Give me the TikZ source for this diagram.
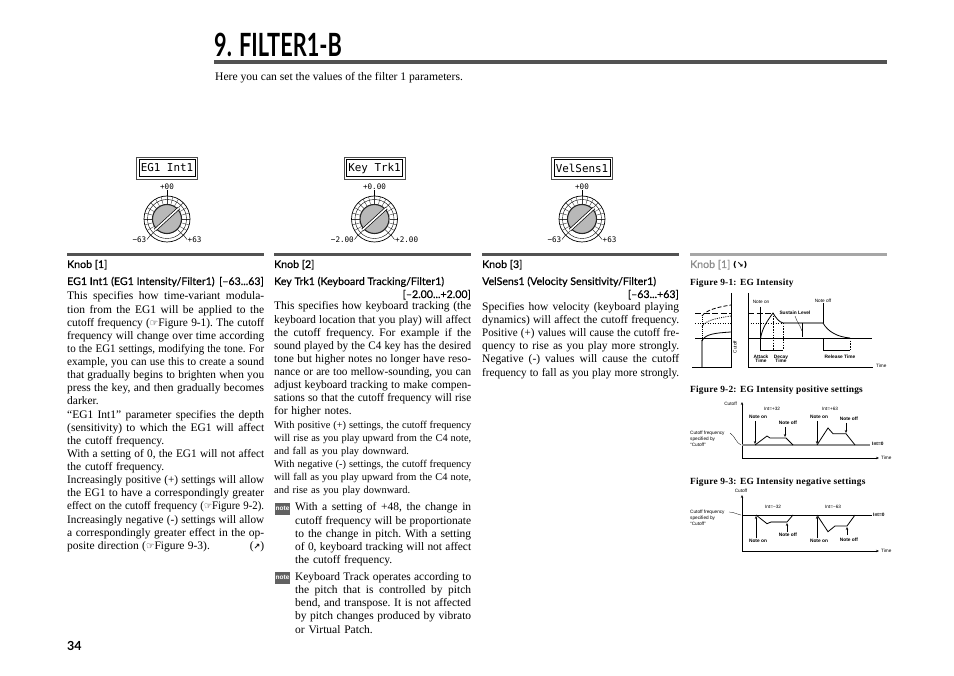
\documentclass[tikz,border=0pt]{standalone}
\usepackage{fontspec}
\usepackage{graphicx}
\setmainfont{Liberation Serif}
\newfontfamily\headf[FakeBold=0.5]{Lato}
\newfontfamily\titlef{Lato}
\newfontfamily\labf{Liberation Sans}
\newfontfamily\lcdf{DejaVu Sans Mono}
\newfontfamily\symf{DejaVu Sans}
\newfontfamily\figf[LetterSpace=2.3]{Liberation Serif}
\usetikzlibrary{arrows.meta}
\newlength\lnw
\setlength\lnw{197pt}
\newsavebox\lnbox
\newcommand\jl[1]{\sbox\lnbox{\spaceskip=.29em plus 1fil\xspaceskip=.29em plus 1fil #1}\ifdim\wd\lnbox>\lnw\resizebox{\lnw}{\ht\lnbox}{\usebox\lnbox}\else\leavevmode\hbox to \lnw{\spaceskip=.29em plus 1fil\xspaceskip=.29em plus 1fil #1}\fi}
\newcommand\nl[1]{\sbox\lnbox{#1}\ifdim\wd\lnbox>\lnw\resizebox{\lnw}{\ht\lnbox}{\usebox\lnbox}\else\usebox\lnbox\fi}
\newcommand\hand{{\symf\fontsize{9.5}{9.5}\selectfont ☞}}
\tikzset{
 bodytxt/.style={anchor=base west,inner sep=0pt,text width=197pt,align=left,font=\fontsize{11.5}{13.12}\selectfont},
 smalltxt/.style={bodytxt,font=\fontsize{10.4}{13.1}\selectfont},
 notetxt/.style={bodytxt,text width=176pt,font=\fontsize{11.5}{13.25}\selectfont},
 head/.style={anchor=base west,inner sep=0pt,font=\headf\fontsize{10.6}{13}\selectfont},
 headr/.style={anchor=base east,inner sep=0pt,font=\headf\fontsize{10.6}{13}\selectfont},
 figtitle/.style={anchor=base west,inner sep=0pt,font=\figf\bfseries\fontsize{9.4}{11}\selectfont},
 tiny/.style={inner sep=0pt,align=center,font=\labf\fontsize{4.7}{6.3}\selectfont},
 tinyb/.style={inner sep=0pt,align=center,font=\labf\bfseries\fontsize{4.8}{6.3}\selectfont},
 lcdt/.style={inner sep=0pt,font=\lcdf\fontsize{10.9}{11}\selectfont},
 knobl/.style={inner sep=0pt,font=\lcdf\fontsize{7.6}{8}\selectfont},
 barbar/.style={fill=black!68,draw=none},
 fl/.style={line width=0.8pt},
 thickgray/.style={line width=2pt,black!45},
 arw/.style={line width=0.6pt,-{Stealth[length=3pt,width=2.4pt]}},
 notebox/.style={fill=black!62,draw=none,text=white,inner sep=0pt,minimum width=15pt,minimum height=12pt,font=\labf\bfseries\fontsize{6.5}{7}\selectfont},
}
\newcommand\knobunit[6]{%
 \begin{scope}[shift={(#1,0)}]
 \draw[line width=0.5pt,black!70,fill=white] (-30.5,157) rectangle (30.5,179);
 \draw[line width=0.9pt] (-28,159.5) rectangle (28,176.5);
 \node[lcdt] (#2lcd) at (0,168) {#3};
 \node[knobl] (#2val) at (0,186.5) {#4};
 \draw[line width=0.4pt] (0,190.5) -- (0,196);
 \foreach \a in {-135,-120,...,135} \draw[line width=0.4pt,black!75] ({23*sin(\a)},{219-23*cos(\a)}) -- ({15*sin(\a)},{219-15*cos(\a)});
 \draw[line width=0.7pt] (0,219) circle[radius=23];
 \draw[line width=0.4pt] (0,219) circle[radius=19.5];
 \draw[line width=1.1pt,black!85,fill=black!28] (0,219) circle[radius=14.5];
 \draw[line width=3pt,black] (-12,230) -- (12,208);
 \draw[line width=1.6pt,white] (-12,230) -- (12,208);
 \draw[line width=0.4pt] (-16.5,235) -- (-20,239.5) (16.5,235) -- (20,239.5);
 \node[knobl,anchor=east] (#2l) at (-20.5,239.5) {#5};
 \node[knobl,anchor=west] (#2r) at (20.5,239.5) {#6};
 \end{scope}}
\begin{document}
\begin{tikzpicture}[x=1pt,y=-1pt]
\useasboundingbox (0,0) rectangle (954,676);
% title
\node[anchor=base west,inner sep=0pt] (title) at (214,57) {\scalebox{0.68}[1]{\titlef\bfseries\fontsize{32}{34}\selectfont 9. FILTER1-B}};
\fill[black!68] (214,60) rectangle (887,64.5);
\node[anchor=base west,inner sep=0pt,font=\fontsize{11.6}{13}\selectfont] (intro) at (215,80.5) {Here you can set the values of the filter 1 parameters.};
% knobs
\knobunit{167}{a}{EG1 Int1}{+00}{−63}{+63}
\knobunit{374.5}{b}{Key Trk1}{+0.00}{−2.00}{+2.00}
\knobunit{582}{c}{VelSens1}{+00}{−63}{+63}
% header bars
\fill[barbar] (67,253) rectangle (264,256.5);
\fill[barbar] (274,253) rectangle (471,256.5);
\fill[barbar] (482,253) rectangle (679,256.5);
\fill[black!35] (690,253) rectangle (887,256.5);
% column 1
\node[head] (h1) at (67,268) {Knob [1]};
\node[head] (s1) at (67,285) {EG1 Int1 (EG1 Intensity/Filter1)};
\node[headr] (r1) at (264,285) {[–63...63]};
\node[bodytxt] (c1) at (67,300) {%
\jl{This specifies how time-variant modula-}\\
\jl{tion from the EG1 will be applied to the}\\
\jl{cutoff frequency (\hand Figure 9-1). The cutoff}\\
\jl{frequency will change over time according}\\
\jl{to the EG1 settings, modifying the tone. For}\\
\jl{example, you can use this to create a sound}\\
\jl{that gradually begins to brighten when you}\\
\jl{press the key, and then gradually becomes}\\
\nl{darker.}\\
\jl{“EG1 Int1” parameter specifies the depth}\\
\jl{(sensitivity) to which the EG1  will affect}\\
\nl{the cutoff frequency.}\\
\jl{With a setting of 0, the EG1 will not affect}\\
\nl{the cutoff frequency.}\\
\jl{Increasingly positive (+) settings will allow}\\
\jl{the EG1 to have a correspondingly greater}\\
\jl{effect on the cutoff frequency (\hand Figure 9-2).}\\
\jl{Increasingly negative (-) settings will allow}\\
\jl{a correspondingly greater effect in the op-}\\
\jl{posite direction (\hand Figure 9-3).\hfill({\symf\bfseries\fontsize{8}{8}\selectfont ↗})}};
% column 2
\node[head] (h2) at (274,268) {Knob [2]};
\node[head] (s2) at (274,285) {Key Trk1 (Keyboard Tracking/Filter1)};
\node[headr] (r2) at (471,298) {[–2.00...+2.00]};
\node[bodytxt] (c2) at (274,310) {%
\jl{This specifies how keyboard tracking (the}\\
\jl{keyboard location that you play) will affect}\\
\jl{the cutoff frequency. For example if the}\\
\jl{sound played by the C4 key has the desired}\\
\jl{tone but higher notes no longer have reso-}\\
\jl{nance or are too mellow-sounding, you can}\\
\jl{adjust keyboard tracking to make compen-}\\
\jl{sations so that the cutoff frequency will rise}\\
\nl{for higher notes.}};
\node[smalltxt] (c2b) at (274,428.5) {%
\jl{With positive (+) settings, the cutoff frequency}\\
\jl{will rise as you play upward from the C4 note,}\\
\nl{and fall as you play downward.}\\
\jl{With negative (-) settings, the cutoff frequency}\\
\jl{will fall as you play upward from the C4 note,}\\
\nl{and rise as you play downward.}};
\node[notebox] (n1) at (282.5,508.5) {note};
\setlength\lnw{176pt}
\node[notetxt] (c2c) at (295,511) {%
\jl{With a setting of +48, the change in}\\
\jl{cutoff frequency will be proportionate}\\
\jl{to the change in pitch. With a setting}\\
\jl{of 0, keyboard tracking will not affect}\\
\nl{the cutoff frequency.}};
\node[notebox] (n2) at (282.5,577.5) {note};
\node[notetxt] (c2d) at (295,580) {%
\jl{Keyboard Track operates according to}\\
\jl{the pitch that is controlled by pitch}\\
\jl{bend, and transpose. It is not affected}\\
\jl{by pitch changes produced by vibrato}\\
\nl{or Virtual Patch.}};
\setlength\lnw{197pt}
% column 3
\node[head] (h3) at (482,268) {Knob [3]};
\node[head] (s3) at (482,285) {VelSens1 (Velocity Sensitivity/Filter1)};
\node[headr] (r3) at (679,298) {[–63...+63]};
\node[bodytxt] (c3) at (482,310.5) {%
\jl{Specifies how velocity (keyboard playing}\\
\jl{dynamics) will affect the cutoff frequency.}\\
\jl{Positive (+) values will cause the cutoff fre-}\\
\jl{quency to rise as you play more strongly.}\\
\jl{Negative (-) values will cause the cutoff}\\
\jl{frequency to fall as you play more strongly.}};
% column 4
\node[head,text=black!45] (h4) at (690,268) {Knob [1] {\symf\bfseries\color{black}\fontsize{8}{8}\selectfont(↘)}};
\node[figtitle] (t1) at (690,286) {Figure 9-1: EG Intensity};
\node[figtitle] (t2) at (690,393) {Figure 9-2: EG Intensity positive settings};
\node[figtitle] (t3) at (690,485) {Figure 9-3: EG Intensity negative settings};
% figure 1
\draw[fl] (731,293) -- (731,367) -- (692,367);
\draw[fl] (748,293) -- (748,367) -- (873,367);
\draw[fl] (695,338) -- (731,338) (748,338) -- (872,338);
\draw[fl,dash pattern=on 6pt off 2.5pt] (695,313) -- (731,313) (748,313) -- (772,313);
\draw[fl,dash pattern=on 1pt off 1.5pt] (695,323) -- (731,323) (748,323) -- (783,323);
\draw[thickgray] (702,340) -- (702,367);
\draw[fl,dash pattern=on 1pt off 1pt] (702,340) -- (702,316);
\draw[fl] (702,341) .. controls (705,334) and (715,333) .. (731,332);
\draw[fl,dash pattern=on 1pt off 1.2pt] (702,327) .. controls (705,320) and (718,318) .. (731,316);
\draw[fl,dash pattern=on 4pt off 2pt] (702,316) .. controls (706,310) and (718,307) .. (731,305);
\draw[fl] (760.7,307) -- (760.7,338);
\draw[fl] (760.7,338) .. controls (762,328) and (768,320) .. (773,313) .. controls (776,318) and (779,322) .. (783,323);
\draw[thickgray] (783,323) -- (823,323);
\draw[fl] (823,303) -- (823,323);
\draw[fl] (823,323) .. controls (828,332) and (838,337) .. (850,338);
\draw[fl] (823,338) -- (823,351);
\draw[fl] (760.7,338) -- (760.7,351) (760.7,350) -- (783,350) (823,350) -- (850,350);
\draw[fl,dash pattern=on 1.5pt off 1.2pt] (773,313) -- (773,350) (783,323) -- (783,350) (850,338) -- (850,350);
\draw[line width=0.6pt] (802,323) -- (802,337);
\draw[line width=0.3pt] (795,316) .. controls (797,322) and (800,325) .. (802,331);
\node[tiny] (f1a) at (761,302) {Note on};
\node[tiny] (f1b) at (823,301) {Note off};
\node[tinyb] (f1c) at (795,313) {Sustain Level};
\node[tinyb] (f1d) at (761,359) {Attack\\[-2.3pt]Time};
\node[tinyb] (f1e) at (781,359) {Decay\\[-2.3pt]Time};
\node[tinyb] (f1f) at (840,357) {Release Time};
\node[tiny,rotate=90] (f1g) at (735,347) {Cutoff};
\node[tiny,anchor=west] (f1h) at (876,366) {Time};
% figure 2
\draw[line width=0.7pt,{Stealth[length=3pt,width=2.4pt]}-{Stealth[length=3pt,width=2.4pt]}] (742,402) -- (742,458) -- (879,458);
\draw[thickgray] (742,445) -- (870,445);
\draw[fl] (755,445) -- (767,436) -- (770,438) -- (786,438) -- (793,445);
\draw[fl] (817,445) -- (828,428) -- (833,433.7) -- (846,433.7) -- (855,445);
\draw[arw] (755,421) -- (755,444);
\draw[arw] (785,427) -- (785,437);
\draw[arw] (817,421) -- (817,444);
\draw[arw] (846,423) -- (846,433);
\draw[line width=0.3pt] (730,433) .. controls (735,436) and (736,443) .. (741,445);
\node[tiny,anchor=east] (f2a) at (737,404) {Cutoff};
\node[tiny] (f2b) at (772,409) {Int=+32};
\node[tiny] (f2c) at (830,409) {Int=+63};
\node[tinyb] (f2d) at (758,417) {Note on};
\node[tinyb] (f2e) at (788,423) {Note off};
\node[tinyb] (f2f) at (819,417) {Note on};
\node[tinyb] (f2g) at (849,419) {Note off};
\node[tinyb,anchor=west] (f2h) at (872,443.5) {Int=0};
\node[tiny,anchor=north west,align=left] (f2i) at (690,430.5) {Cutoff frequency\\specified by\\“Cutoff”};
\node[tiny,anchor=west] (f2j) at (881,458) {Time};
% figure 3
\draw[line width=0.7pt,{Stealth[length=3pt,width=2.4pt]}-{Stealth[length=3pt,width=2.4pt]}] (742,495) -- (742,551) -- (879,551);
\draw[fl] (742,515) -- (872,515);
\draw[fl] (756,515) -- (767,523.7) -- (771,522) (787,522) -- (793,515);
\draw[thickgray] (771,522) -- (787,522);
\draw[fl] (817,515) -- (828,531.7) -- (835,526) -- (847,526) -- (855,515);
\draw[arw] (756,538) -- (756,516);
\draw[arw] (787,532) -- (787,523);
\draw[arw] (817,538) -- (817,516);
\draw[arw] (847,535) -- (847,527);
\draw[line width=0.3pt] (729,512) .. controls (735,512) and (737,515) .. (741,515);
\node[tiny] (f3a) at (741,491) {Cutoff};
\node[tiny] (f3b) at (773,507) {Int=−32};
\node[tiny] (f3c) at (833,507) {Int=−63};
\node[tinyb] (f3d) at (758,541) {Note on};
\node[tinyb] (f3e) at (788,535) {Note off};
\node[tinyb] (f3f) at (819,541) {Note on};
\node[tinyb] (f3g) at (849,540) {Note off};
\node[tinyb,anchor=west] (f3h) at (873,514.5) {Int=0};
\node[tiny,anchor=north west,align=left] (f3i) at (690,509.5) {Cutoff frequency\\specified by\\“Cutoff”};
\node[tiny,anchor=west] (f3j) at (881,551) {Time};
% page number
\node[anchor=base west,inner sep=0pt,font=\titlef\bfseries\fontsize{12.5}{14}\selectfont] (pg) at (67,650) {34};
\end{tikzpicture}
\end{document}
